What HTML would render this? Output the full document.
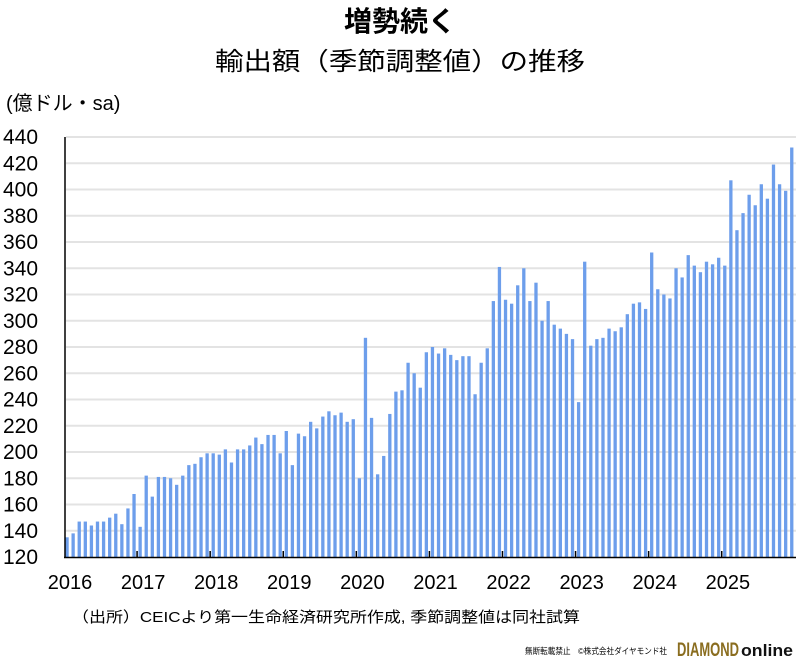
<!DOCTYPE html>
<html><head><meta charset="utf-8"><style>
body{margin:0;background:#fff;width:800px;height:662px;overflow:hidden}
svg text{font-family:"Liberation Sans","Noto Sans CJK JP",sans-serif}
</style></head><body>
<svg id="s" width="800" height="662" xmlns="http://www.w3.org/2000/svg">
<text x="400" y="31" text-anchor="middle" font-size="28" font-weight="bold">増勢続く</text>
<text x="400" y="70" text-anchor="middle" font-size="25" textLength="370" lengthAdjust="spacingAndGlyphs">輸出額（季節調整値）の推移</text>
<text x="6" y="110" font-size="20">(億ドル・sa)</text>
<g id="grid" stroke="#e3e3e3" stroke-width="2"></g>
<g id="bars" fill="#6d9eeb"></g>
<g font-size="21" id="yl"></g>
<line x1="65" y1="137" x2="65" y2="558" stroke="#000" stroke-width="1.5"/>
<line x1="64" y1="557.5" x2="796" y2="557.5" stroke="#000" stroke-width="1.5"/>
<g id="tk" stroke="#000" stroke-width="1.5"></g>
<g font-size="20" id="xl" text-anchor="middle"></g>
<text x="72" y="622" font-size="15" textLength="508" lengthAdjust="spacingAndGlyphs">（出所）CEICより第一生命経済研究所作成, 季節調整値は同社試算</text>
<text x="525" y="654" font-size="8.5" textLength="142" lengthAdjust="spacingAndGlyphs">無断転載禁止　©株式会社ダイヤモンド社</text>
<text x="677" y="656" font-size="19" font-weight="bold" fill="#8a6d1f" textLength="62" lengthAdjust="spacingAndGlyphs">DIAMOND</text>
<text x="741" y="656" font-size="17" font-weight="bold" fill="#111" textLength="52" lengthAdjust="spacingAndGlyphs">online</text>
</svg>
<script>
var v=[135,138,147,147,144,147,147,150,153,145,157,168,
143,182,166,181,181,180,175,182,190,191,196,199,
199,198,202,192,202,202,205,211,206,213,213,199,
216,190,214,212,223,218,227,231,228,230,223,225,
180,287,226,183,197,229,246,247,268,260,249,276,
280,275,279,274,270,273,273,244,268,279,315,341,
316,313,327,340,315,329,300,315,297,294,290,286,
238,345,281,286,287,294,292,295,305,313,314,309,
352,324,320,317,340,333,350,342,337,345,343,348,
342,407,369,382,396,388,404,393,419,404,399,432];
var NS="http://www.w3.org/2000/svg";
function el(p,t,a,txt){var e=document.createElementNS(NS,t);for(var k in a)e.setAttribute(k,a[k]);if(txt)e.textContent=txt;document.getElementById(p).appendChild(e);}
function Y(val){return 557-(val-120)*1.3125;}
for(var g=140;g<=440;g+=20){el("grid","line",{x1:66,x2:796,y1:Y(g),y2:Y(g)});}
for(var g=120;g<=440;g+=20){el("yl","text",{x:3,y:Y(g)+7},""+g);}
for(var i=0;i<v.length;i++){var x=67+6.09*i;el("bars","rect",{x:x-1.6,y:Y(v[i]),width:3.3,height:557-Y(v[i])});}
for(var yr=0;yr<10;yr++){if(yr>0){var tx=67+6.09*(12*yr)-3;el("tk","line",{x1:tx,x2:tx,y1:551,y2:557});}
el("xl","text",{x:70+73.1*yr,y:589},""+(2016+yr));}
</script>
</body></html>
